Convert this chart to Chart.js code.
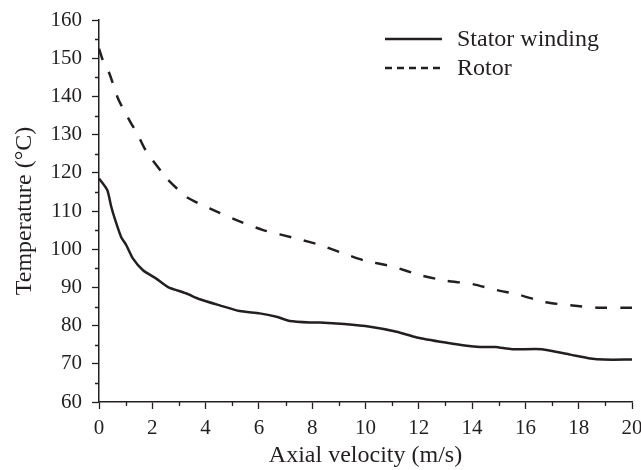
<!DOCTYPE html>
<html><head><meta charset="utf-8">
<script src="https://cdn.jsdelivr.net/npm/chart.js@4"></script>
<style>html,body{margin:0;padding:0;background:#fff}</style>
</head><body>
<canvas id="c" width="641" height="470"></canvas>
<script>
const seriesNames = ['Stator winding', 'Rotor'];
const statorX = [0, 0.31, 0.46, 0.61, 0.83, 1.02, 1.27, 1.65, 2.15, 2.59, 3.28, 3.78, 4.53, 5.28, 6.03, 6.66, 7.16, 7.91, 8.29, 9.2, 10.17, 11.17, 11.92, 13.05, 13.8, 14.3, 14.87, 15.5, 16.62, 17.69, 18.44, 18.94, 20];
const statorY = [118.5, 115.5, 111.1, 107.6, 103.2, 101.1, 97.6, 94.5, 92.3, 90.1, 88.4, 86.9, 85.3, 83.8, 83.2, 82.3, 81.2, 80.8, 80.8, 80.4, 79.7, 78.4, 76.9, 75.5, 74.7, 74.4, 74.4, 73.8, 73.8, 72.4, 71.4, 71.1, 71.1];
const rotorX = [0, 0.14, 0.39, 0.71, 0.93, 1.21, 1.46, 1.71, 1.96, 2.34, 2.53, 3.28, 4.15, 5.16, 6.16, 7.41, 8.29, 9.17, 9.92, 11.05, 12.05, 13.05, 13.92, 14.93, 15.8, 16.68, 17.69, 18.69, 20];
const rotorY = [152.5, 149.5, 146, 139.5, 136.4, 132.9, 129.9, 126.4, 123.8, 120.3, 118.6, 113.7, 110.7, 107.6, 105, 102.8, 101.1, 98.9, 97.1, 95.4, 93.2, 91.7, 91.0, 89.3, 88.0, 86.2, 85.3, 84.7, 84.7];
const xTicks = [0, 2, 4, 6, 8, 10, 12, 14, 16, 18, 20];
const yTicks = [60, 70, 80, 90, 100, 110, 120, 130, 140, 150, 160];
const xMinorTicks = [1, 3, 5, 7, 9, 11, 13, 15, 17, 19];
const yMinorTicks = [65, 75, 85, 95, 105, 115, 125, 135, 145, 155];
const xTitle = 'Axial velocity (m/s)';
const yTitle = 'Temperature (°C)';

const INK = '#231f20';
const FONT = "'Liberation Serif', 'Times New Roman', serif";

const toPts = (xs, ys) => xs.map((x, i) => ({x: x, y: ys[i]}));

const minorTicks = {
  id: 'minorTicks',
  afterDraw(chart) {
    const ctx = chart.ctx, xs = chart.scales.x, ys = chart.scales.y;
    ctx.save();
    ctx.strokeStyle = INK; ctx.lineWidth = 1.3;
    ctx.beginPath();
    xMinorTicks.forEach(v => { const p = Math.round(xs.getPixelForValue(v)) + 0.5; ctx.moveTo(p, xs.top); ctx.lineTo(p, xs.top + 4); });
    yMinorTicks.forEach(v => { const p = Math.round(ys.getPixelForValue(v)) + 0.5; ctx.moveTo(ys.right, p); ctx.lineTo(ys.right - 4, p); });
    ctx.stroke();
    ctx.restore();
  }
};

const customLegend = {
  id: 'customLegend',
  afterDraw(chart) {
    const ctx = chart.ctx, a = chart.chartArea;
    const x0 = a.right - 247, x1 = a.right - 190;
    const rows = [a.top + 19, a.top + 48];
    ctx.save();
    ctx.strokeStyle = INK; ctx.fillStyle = INK; ctx.lineWidth = 2.5;
    chart.data.datasets.forEach((ds, i) => {
      ctx.setLineDash(i === 0 ? [] : [7, 5]);
      ctx.beginPath(); ctx.moveTo(x0, rows[i]); ctx.lineTo(x1, rows[i]); ctx.stroke();
      ctx.setLineDash([]);
      ctx.font = '24px ' + FONT;
      ctx.textBaseline = 'middle';
      ctx.fillText(ds.label, x1 + 15, rows[i] + 1);
    });
    ctx.restore();
  }
};

new Chart(document.getElementById('c'), {
  type: 'line',
  data: {
    datasets: [
      {label: seriesNames[0], data: toPts(statorX, statorY), borderColor: INK, borderWidth: 2.5, pointRadius: 0, tension: 0.2, fill: false},
      {label: seriesNames[1], data: toPts(rotorX, rotorY), borderColor: INK, borderWidth: 2.5, borderDash: [12, 13], pointRadius: 0, tension: 0.2, fill: false}
    ]
  },
  options: {
    responsive: false,
    animation: false,
    devicePixelRatio: 1,
    layout: {padding: {left: 0, right: 9, top: 20, bottom: 0}},
    plugins: {legend: {display: false}, tooltip: {enabled: false}},
    scales: {
      x: {
        type: 'linear', min: 0, max: 20,
        afterBuildTicks: s => { s.ticks = xTicks.map(v => ({value: v})); },
        afterFit: s => { s.height = 68; s.paddingLeft = 0; s.paddingRight = 0; },
        grid: {display: true, drawOnChartArea: false, drawTicks: true, tickLength: 7, color: INK, tickWidth: 1.3},
        border: {display: true, color: INK, width: 1.5},
        ticks: {color: INK, font: {family: FONT, size: 21}, padding: 7, maxRotation: 0},
        title: {display: true, text: xTitle, color: INK, font: {family: FONT, size: 24}, padding: {top: 2, bottom: 0}}
      },
      y: {
        type: 'linear', min: 60, max: 160,
        afterBuildTicks: s => { s.ticks = yTicks.map(v => ({value: v})); },
        afterFit: s => { s.width = 99; s.paddingTop = 0; s.paddingBottom = 0; },
        grid: {display: true, drawOnChartArea: false, drawTicks: true, tickLength: 7, color: INK, tickWidth: 1.3},
        border: {display: true, color: INK, width: 1.5},
        ticks: {color: INK, font: {family: FONT, size: 21}, padding: 10},
        title: {display: true, text: yTitle, color: INK, font: {family: FONT, size: 24}, padding: {top: 10, bottom: 0}}
      }
    }
  },
  plugins: [minorTicks, customLegend]
});
</script>
</body></html>
